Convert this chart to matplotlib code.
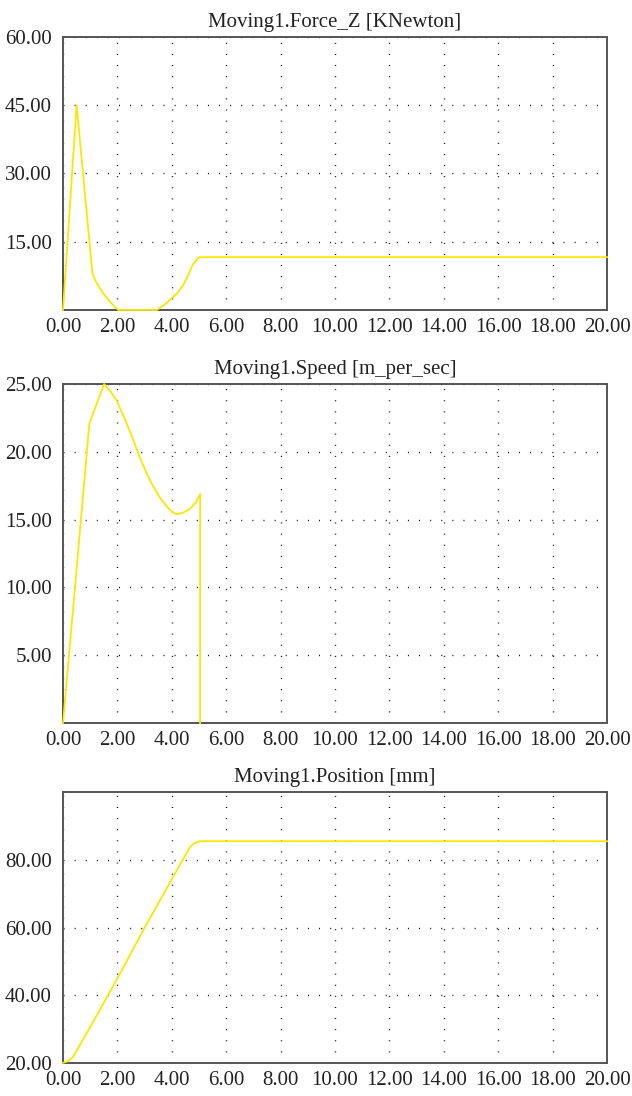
import matplotlib
matplotlib.use("Agg")
import matplotlib.pyplot as plt

# Force [KNewton] over time
force_t = [0.0, 0.5, 1.08, 1.2, 1.35, 1.5, 1.7, 1.85, 2.03, 3.45, 3.7, 3.93, 4.2, 4.42, 4.6, 4.73, 4.85, 4.95, 5.03, 20.0]
force_v = [0.0, 45.0, 8.1, 6.3, 4.8, 3.5, 2.0, 1.0, 0.0, 0.0, 1.0, 2.2, 3.7, 5.5, 7.6, 9.5, 10.6, 11.3, 11.6, 11.6]

# Speed [m_per_sec] over time
speed_t = [0.0, 0.97, 1.51, 1.73, 1.97, 2.3, 2.58, 2.8, 3.08, 3.3, 3.57, 3.8, 4.06, 4.18, 4.4, 4.67, 4.9, 5.04, 5.04]
speed_v = [0.0, 22.1, 25.0, 24.5, 23.8, 22.3, 20.9, 19.7, 18.4, 17.5, 16.6, 16.0, 15.5, 15.4, 15.5, 15.8, 16.3, 16.9, 0.0]

# Position [mm] over time
pos_t = [0.0, 0.2, 0.35, 0.5, 1.0, 2.0, 3.01, 4.0, 4.67, 4.85, 5.04, 20.0]
pos_v = [20.0, 20.6, 21.6, 23.6, 30.6, 45.0, 60.1, 74.3, 83.8, 85.0, 85.5, 85.5]

x_ticks = [0, 2, 4, 6, 8, 10, 12, 14, 16, 18, 20]

panels = [
    ("Moving1.Force_Z [KNewton]", force_t, force_v, (0, 60), [15, 30, 45, 60]),
    ("Moving1.Speed [m_per_sec]", speed_t, speed_v, (0, 25), [5, 10, 15, 20, 25]),
    ("Moving1.Position [mm]", pos_t, pos_v, (20, 100), [20, 40, 60, 80]),
]

plt.rcParams['font.family'] = ['Liberation Serif', 'DejaVu Serif']

fig = plt.figure(figsize=(6.32, 10.96), dpi=100)
boxes = [
    [0.0997, 0.7172, 0.8608, 0.2491],
    [0.0997, 0.3403, 0.8608, 0.3093],
    [0.0997, 0.0302, 0.8608, 0.2470],
]

for box, (title, t, v, ylim, yticks) in zip(boxes, panels):
    ax = fig.add_axes(box)
    ax.plot(t, v, color='#ffe600', linewidth=1.3, clip_on=False, zorder=5)
    ax.set_xlim(0, 20)
    ax.set_ylim(*ylim)
    ax.set_xticks(x_ticks)
    ax.set_xticklabels([f"{x:.2f}" for x in x_ticks])
    ax.set_yticks(yticks)
    ax.set_yticklabels([f"{y:.2f}" for y in yticks])
    ax.tick_params(length=0, labelsize=15, colors='#222222')
    ax.tick_params(axis='y', pad=8)
    ax.tick_params(axis='x', pad=6)
    ax.grid(True, color='black', linestyle=(0, (0.7, 7.3)), linewidth=1.0)
    for s in ax.spines.values():
        s.set_color('#555555')
        s.set_linewidth(1.4)
    ax.set_title(title, fontsize=15, color='#222222', pad=7)

fig.savefig("out.png", dpi=100)
